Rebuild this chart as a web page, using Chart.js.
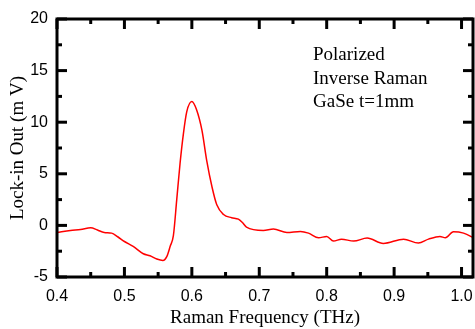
<!DOCTYPE html>
<html>
<head>
<meta charset="utf-8">
<script src="https://cdn.jsdelivr.net/npm/chart.js@4/dist/chart.umd.min.js"></script>
<style>
  html, body { margin: 0; padding: 0; background: #fff; }
  #wrap { width: 475px; height: 329px; position: relative; }
</style>
</head>
<body>
<div id="wrap"><canvas id="myChart"></canvas></div>
<script>
// Raman frequency (THz) and lock-in signal (mV)
const freqTHz = [0.400, 0.420, 0.435, 0.450, 0.460, 0.470, 0.481, 0.490, 0.500, 0.513,
  0.528, 0.538, 0.548, 0.557, 0.563, 0.568, 0.5726, 0.5776, 0.5825, 0.5875,
  0.5924, 0.600, 0.607, 0.615, 0.622, 0.630, 0.637, 0.647, 0.659, 0.669,
  0.675, 0.681, 0.706, 0.721, 0.741, 0.761, 0.773, 0.788, 0.800, 0.810,
  0.822, 0.840, 0.860, 0.884, 0.914, 0.936, 0.951, 0.968, 0.976, 0.988,
  1.003, 1.020];
const lockInMV = [-0.69, -0.49, -0.40, -0.23, -0.45, -0.69, -0.75, -1.10, -1.56, -2.04,
  -2.75, -2.94, -3.26, -3.40, -3.00, -2.00, -1.00, 2.50, 6.00, 8.90,
  11.00, 12.00, 11.20, 9.20, 6.30, 3.70, 2.00, 1.05, 0.75, 0.60,
  0.28, -0.17, -0.49, -0.36, -0.69, -0.59, -0.75, -1.20, -1.07, -1.52,
  -1.33, -1.52, -1.23, -1.75, -1.33, -1.71, -1.33, -1.07, -1.20, -0.62,
  -0.75, -1.27];
const xTicks = [0.4, 0.5, 0.6, 0.7, 0.8, 0.9, 1.0];
const yTicks = [-5, 0, 5, 10, 15, 20];
const noteLines = ['Polarized', 'Inverse Raman', 'GaSe t=1mm'];

// frame + inward tick marks, like the original plot
const framePlugin = {
  id: 'frame',
  afterDraw(chart) {
    const {ctx, chartArea: a, scales: {x, y}} = chart;
    ctx.save();
    ctx.strokeStyle = '#000';
    ctx.lineWidth = 3;
    ctx.lineCap = 'butt';
    ctx.strokeRect(a.left, a.top, a.right - a.left, a.bottom - a.top);
    const tick = (x1, y1, x2, y2) => { ctx.beginPath(); ctx.moveTo(x1, y1); ctx.lineTo(x2, y2); ctx.stroke(); };
    for (let i = 0; i < xTicks.length; i++) {
      const v = xTicks[i];
      [v, v + 0.05].forEach((t, k) => {
        if (t > x.max) return;
        const px = x.getPixelForValue(t), len = k ? 5 : 10;
        tick(px, a.bottom, px, a.bottom - len);
        tick(px, a.top, px, a.top + len);
      });
    }
    for (let i = 0; i < yTicks.length; i++) {
      const v = yTicks[i];
      [v, v + 2.5].forEach((t, k) => {
        if (t > y.max) return;
        const py = y.getPixelForValue(t), len = k ? 5 : 10;
        tick(a.left, py, a.left + len, py);
        tick(a.right, py, a.right - len, py);
      });
    }
    ctx.fillStyle = '#000';
    ctx.font = '19px "Liberation Serif", "Times New Roman", serif';
    ctx.textBaseline = 'middle';
    noteLines.forEach((s, i) => ctx.fillText(s, 313, 55 + i * 23.7));
    ctx.restore();
  }
};

let ctx = document.getElementById('myChart').getContext('2d');
window.chart = new Chart(ctx, {
  type: 'line',
  data: {
    datasets: [{
      label: 'Lock-in Out',
      data: freqTHz.map((f, i) => ({x: f, y: lockInMV[i]})),
      borderColor: '#ff0000',
      borderWidth: 1.5,
      pointRadius: 0,
      fill: false,
      cubicInterpolationMode: 'monotone'
    }]
  },
  options: {
    responsive: true,
    maintainAspectRatio: false,
    animation: false,
    layout: {padding: {top: 19, right: 2, left: 0, bottom: 0}},
    plugins: {
      legend: {display: false},
      tooltip: {enabled: false}
    },
    scales: {
      x: {
        type: 'linear', min: 0.4, max: 1.017,
        afterFit: s => { s.height = 52; s.paddingLeft = 0; s.paddingRight = 0; },
        grid: {display: false, drawTicks: false},
        border: {display: false},
        ticks: {
          stepSize: 0.1, includeBounds: false, padding: 10, color: '#000',
          maxRotation: 0, autoSkip: false,
          font: {family: '"Liberation Sans", Arial, sans-serif', size: 16},
          callback: v => v.toFixed(1)
        },
        title: {
          display: true, text: 'Raman Frequency (THz)', color: '#000', padding: 0,
          font: {family: '"Liberation Serif", "Times New Roman", serif', size: 19}
        }
      },
      y: {
        min: -5, max: 20,
        afterFit: s => { s.width = 57; s.paddingTop = 0; s.paddingBottom = 0; },
        grid: {display: false, drawTicks: false},
        border: {display: false},
        ticks: {
          stepSize: 5, padding: 9, color: '#000',
          font: {family: '"Liberation Sans", Arial, sans-serif', size: 16},
          callback: v => String(v)
        },
        title: {
          display: true, text: 'Lock-in Out (m V)', color: '#000', padding: 7,
          font: {family: '"Liberation Serif", "Times New Roman", serif', size: 19}
        }
      }
    }
  },
  plugins: [framePlugin]
});
</script>
</body>
</html>
